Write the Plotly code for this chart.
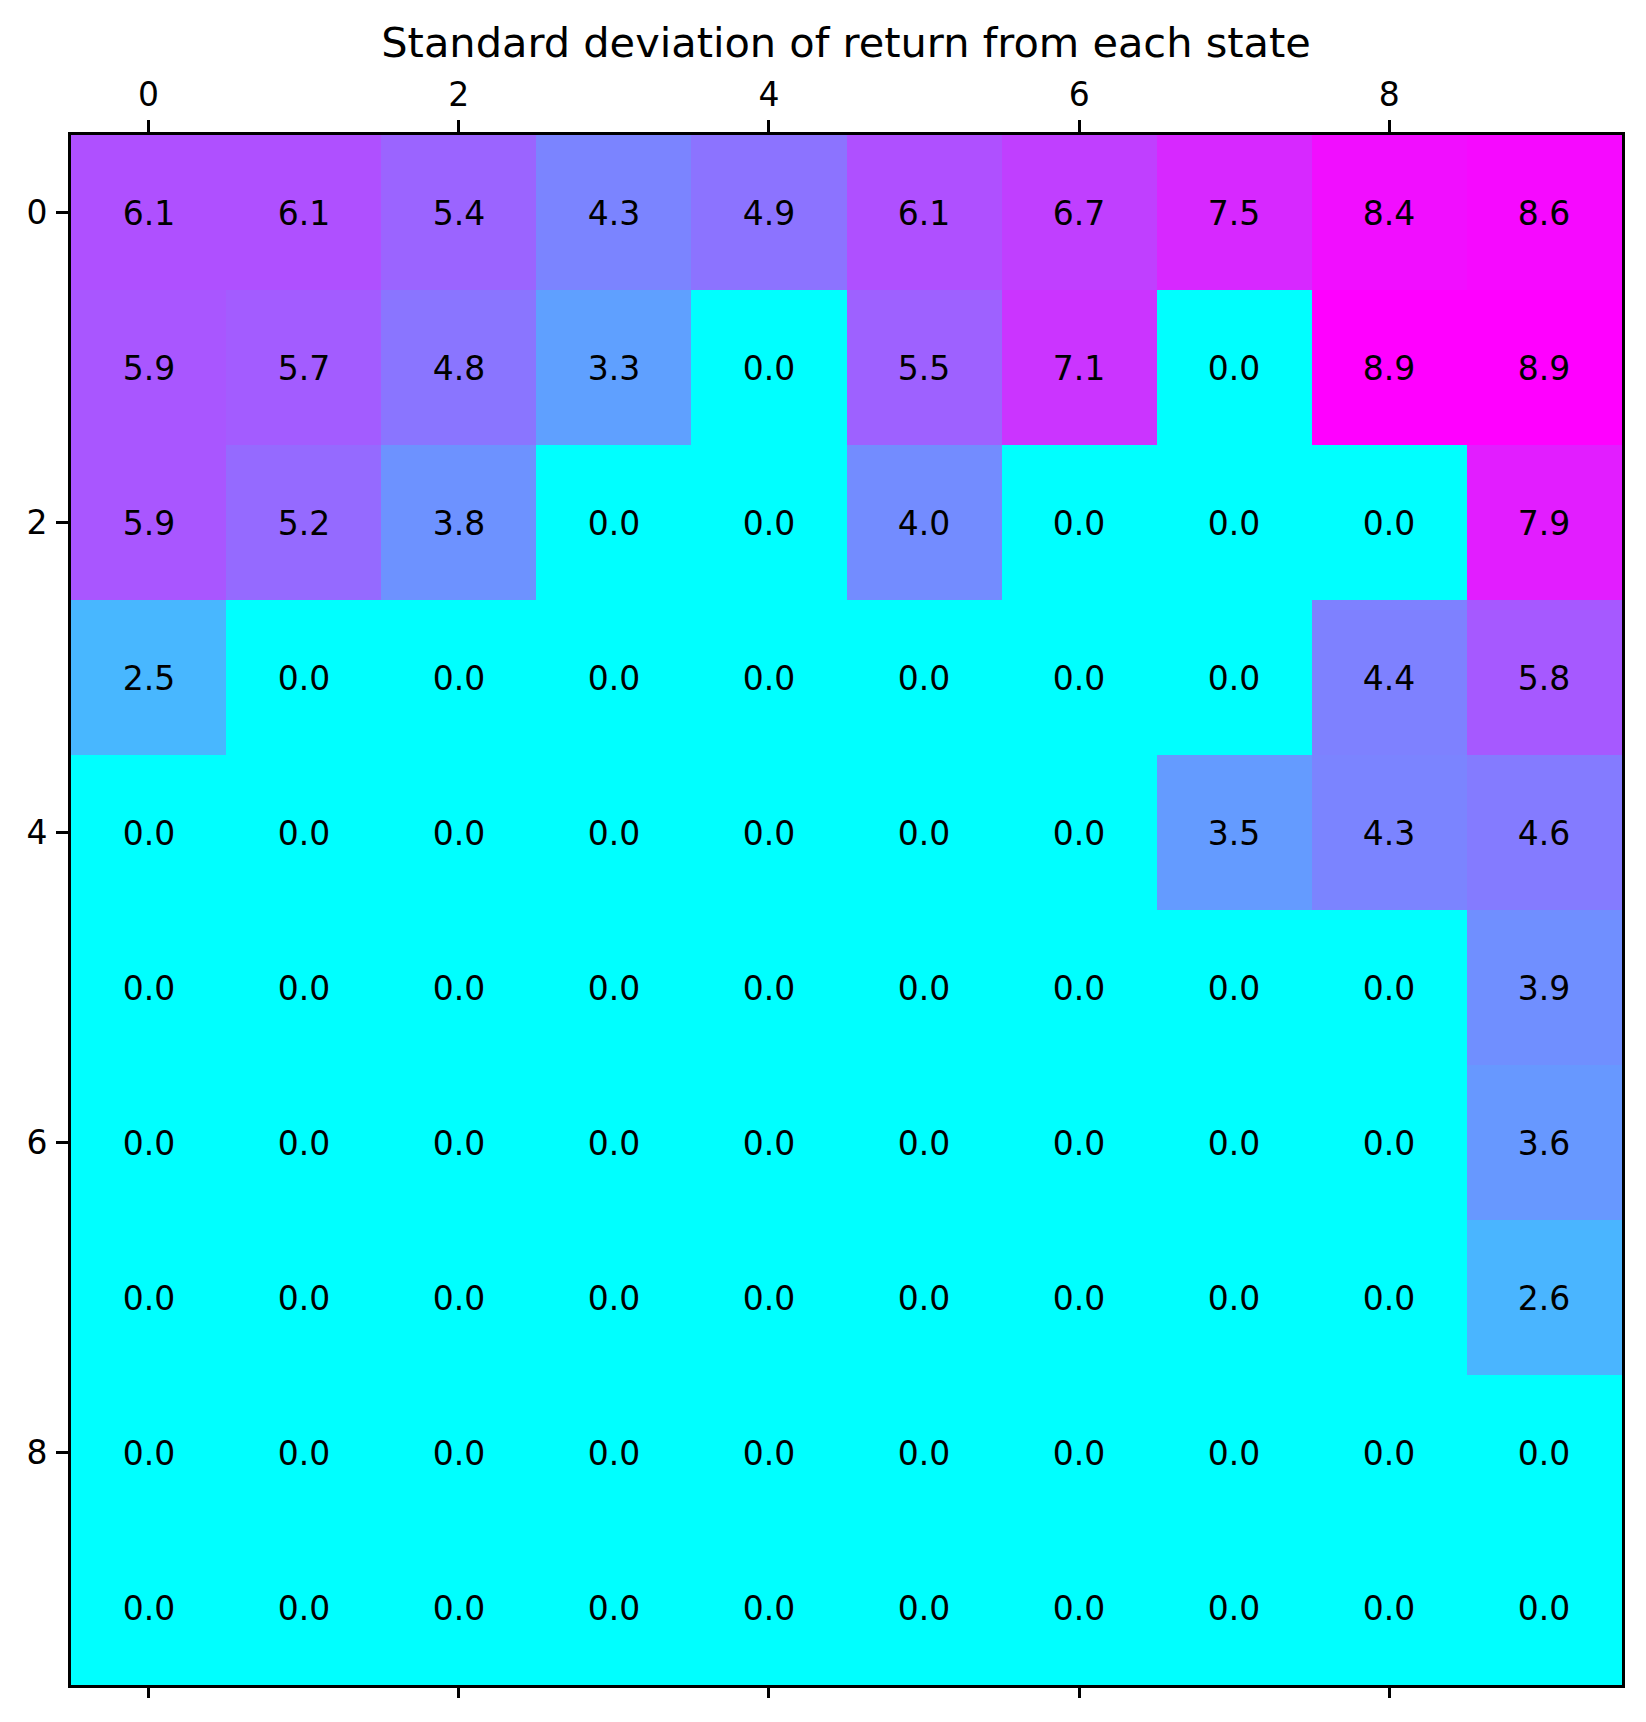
import plotly.graph_objects as go

rows = list(range(10))
cols = list(range(10))
values = [
    [6.1, 6.1, 5.4, 4.3, 4.9, 6.1, 6.7, 7.5, 8.4, 8.6],
    [5.9, 5.7, 4.8, 3.3, 0.0, 5.5, 7.1, 0.0, 8.9, 8.9],
    [5.9, 5.2, 3.8, 0.0, 0.0, 4.0, 0.0, 0.0, 0.0, 7.9],
    [2.5, 0.0, 0.0, 0.0, 0.0, 0.0, 0.0, 0.0, 4.4, 5.8],
    [0.0, 0.0, 0.0, 0.0, 0.0, 0.0, 0.0, 3.5, 4.3, 4.6],
    [0.0, 0.0, 0.0, 0.0, 0.0, 0.0, 0.0, 0.0, 0.0, 3.9],
    [0.0, 0.0, 0.0, 0.0, 0.0, 0.0, 0.0, 0.0, 0.0, 3.6],
    [0.0, 0.0, 0.0, 0.0, 0.0, 0.0, 0.0, 0.0, 0.0, 2.6],
    [0.0, 0.0, 0.0, 0.0, 0.0, 0.0, 0.0, 0.0, 0.0, 0.0],
    [0.0, 0.0, 0.0, 0.0, 0.0, 0.0, 0.0, 0.0, 0.0, 0.0],
]
tick_vals = [0, 2, 4, 6, 8]
title_text = "Standard deviation of return from each state"

FONT = "DejaVu Sans"
text = [[f"{v:.1f}" for v in r] for r in values]
zmax = max(max(r) for r in values)

fig = go.Figure()
fig.add_trace(go.Heatmap(
    z=values, x=cols, y=rows,
    colorscale=[[0, "rgb(0,255,255)"], [1, "rgb(255,0,255)"]],
    zmin=0, zmax=zmax, showscale=False,
    text=text, texttemplate="%{text}",
    textfont=dict(family=FONT, size=33, color="black"),
    hoverinfo="skip",
))
# invisible trace for bottom axis ticks
fig.add_trace(go.Scatter(x=[0], y=[0], xaxis="x2", mode="markers",
                         marker=dict(opacity=0), showlegend=False, hoverinfo="skip"))

axis_common = dict(
    range=[-0.5, 9.5], tickvals=tick_vals, ticks="outside", ticklen=12,
    tickwidth=2.6, tickcolor="black", showgrid=False, zeroline=False,
    tickfont=dict(family=FONT, size=33, color="black"),
)
fig.update_layout(
    width=1646, height=1722,
    margin=dict(l=71, r=24, t=135, b=37),
    paper_bgcolor="white", plot_bgcolor="white",
    title=dict(text=title_text, x=0.514, xanchor="center", y=1 - 42 / 1722, yanchor="middle",
               font=dict(family=FONT, size=41.5, color="black")),
    xaxis=dict(side="top", showline=True, linewidth=2.6, linecolor="black", mirror=True,
               ticklabelstandoff=1, **axis_common),
    xaxis2=dict(side="bottom", overlaying="x", showticklabels=False, showline=False,
                **axis_common),
    yaxis=dict(range=[9.5, -0.5], tickvals=tick_vals, ticks="outside", ticklen=12,
               tickwidth=2.6, tickcolor="black", showgrid=False, zeroline=False,
               showline=True, linewidth=2.6, linecolor="black", mirror=True,
               tickfont=dict(family=FONT, size=33, color="black"), ticklabelstandoff=2),
)
fig.write_html("out.html")
